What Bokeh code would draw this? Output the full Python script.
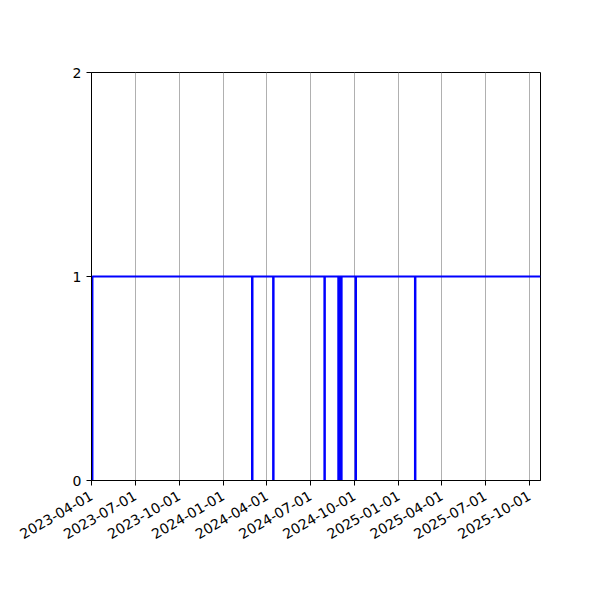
import math
import pandas as pd
from bokeh.plotting import figure
from bokeh.models import Range1d, FixedTicker, DatetimeTickFormatter
from bokeh.embed import file_html
from bokeh.resources import INLINE

# step data: 1 = up, 0 = down
dates = ["2023-04-01", "2023-04-03",
         "2024-03-01", "2024-03-02",
         "2024-04-14", "2024-04-15",
         "2024-07-30", "2024-07-31",
         "2024-08-28", "2024-08-29",
         "2024-08-31", "2024-09-01",
         "2024-09-03", "2024-09-04",
         "2024-10-03", "2024-10-04",
         "2025-02-04", "2025-02-05",
         "2025-10-24"]
values = [0, 1, 0, 1, 0, 1, 0, 1, 0, 1, 0, 1, 0, 1, 0, 1, 0, 1, 1]

tick_labels = ["2023-04-01", "2023-07-01", "2023-10-01", "2024-01-01",
               "2024-04-01", "2024-07-01", "2024-10-01", "2025-01-01",
               "2025-04-01", "2025-07-01", "2025-10-01"]
y_ticks = [0, 1, 2]

x = pd.to_datetime(dates)


def ms(d):
    return pd.Timestamp(d).value / 1e6


p = figure(width=592, height=592, x_axis_type="datetime",
           x_range=Range1d(ms(dates[0]), ms(dates[-1])),
           y_range=Range1d(0, 2),
           output_backend="svg", toolbar_location=None)
p.min_border_left = 91
p.min_border_right = 52
p.min_border_top = 72
p.min_border_bottom = 112
p.outline_line_color = "black"
p.outline_line_alpha = 1
p.outline_line_width = 1

p.step(x, values, mode="after", line_color="blue", line_width=2)

p.xaxis.ticker = FixedTicker(ticks=[ms(t) for t in tick_labels])
p.xaxis.formatter = DatetimeTickFormatter(
    days="%Y-%m-%d", months="%Y-%m-%d", years="%Y-%m-%d")
p.xaxis.major_label_orientation = math.pi / 6
p.xaxis.major_label_standoff = 9
p.yaxis.ticker = FixedTicker(ticks=y_ticks)

for ax in (p.xaxis[0], p.yaxis[0]):
    ax.major_tick_in = 0
    ax.major_tick_out = 5
    ax.minor_tick_line_color = None
    ax.axis_line_color = "black"
    ax.major_tick_line_color = "black"
    ax.major_label_text_color = "black"
    ax.major_label_text_font = "DejaVu Sans"
    ax.major_label_text_font_size = "14px"

p.xgrid.grid_line_color = "#b0b0b0"
p.xgrid.grid_line_width = 1
p.ygrid.grid_line_color = None

open("out.html", "w").write(file_html(p, INLINE))
